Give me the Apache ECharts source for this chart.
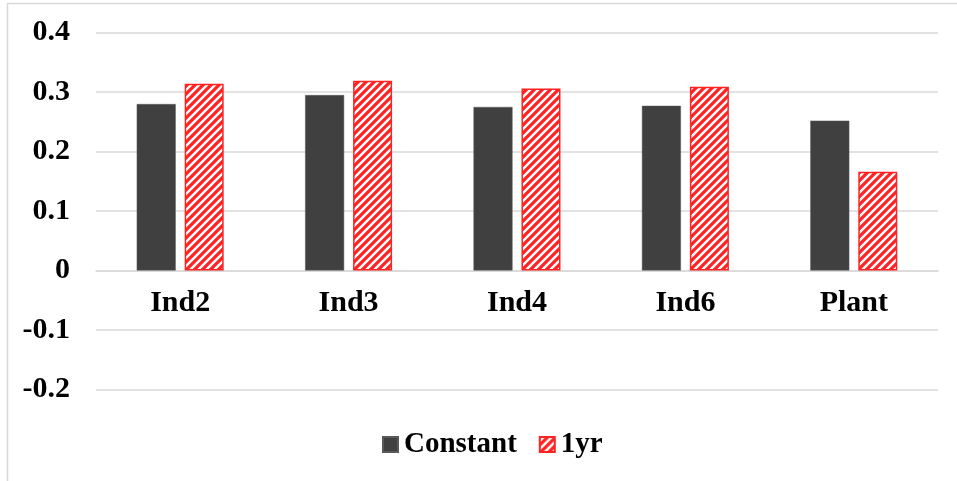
<!DOCTYPE html>
<html>
<head>
<meta charset="utf-8">
<script src="https://cdn.jsdelivr.net/npm/echarts@6/dist/echarts.min.js"></script>
<style>
html,body{margin:0;padding:0;background:#fff;}
#chart{width:957px;height:481px;}
</style>
</head>
<body>
<div id="chart"></div>
<script>
var categories = ['Ind2', 'Ind3', 'Ind4', 'Ind6', 'Plant'];
var constantValues = [0.280, 0.295, 0.275, 0.277, 0.252];
var oneYrValues = [0.314, 0.319, 0.306, 0.309, 0.166];
var seriesNames = ['Constant', '1yr'];

function makeHatch() {
  var c = document.createElement('canvas');
  c.width = 8; c.height = 8;
  var ctx = c.getContext('2d');
  ctx.fillStyle = '#ffffff';
  ctx.fillRect(0, 0, 8, 8);
  ctx.strokeStyle = '#ff2222';
  ctx.lineWidth = 3.2;
  ctx.beginPath();
  ctx.moveTo(-2, 10); ctx.lineTo(10, -2);
  ctx.moveTo(-2, 2); ctx.lineTo(2, -2);
  ctx.moveTo(6, 10); ctx.lineTo(10, 6);
  ctx.stroke();
  return c;
}

var font = 'Liberation Serif';
var chart = echarts.init(document.getElementById('chart'), null, {renderer: 'canvas'});
chart.setOption({
  animation: false,
  backgroundColor: '#ffffff',
  graphic: [{
    type: 'rect',
    shape: {x: 7.5, y: 3.5, width: 1000, height: 600},
    style: {fill: 'none', stroke: '#d9d9d9', lineWidth: 1.5},
    silent: true
  }],
  grid: {left: 96, right: 19, top: 32.7, bottom: 91.7},
  legend: {
    data: seriesNames,
    left: 377,
    top: 425,
    itemWidth: 15,
    itemHeight: 15,
    itemGap: 22,
    icon: 'rect',
    textStyle: {fontFamily: font, fontWeight: 'bold', fontSize: 29, color: '#000', padding: [0, 0, 0, 1]}
  },
  xAxis: {
    type: 'category',
    data: categories,
    offset: -118.6,
    axisLine: {show: true, onZero: false, lineStyle: {color: '#d9d9d9', width: 1.5}},
    axisTick: {show: false},
    axisLabel: {fontFamily: font, fontWeight: 'bold', fontSize: 30, color: '#000', margin: 18}
  },
  yAxis: {
    type: 'value',
    min: -0.2,
    max: 0.4,
    interval: 0.1,
    axisLine: {show: false},
    axisTick: {show: false},
    splitLine: {lineStyle: {color: '#d9d9d9', width: 1.5}},
    axisLabel: {
      fontFamily: font, fontWeight: 'bold', fontSize: 30, color: '#000', margin: 26,
      formatter: function (v) { return String(Math.round(v * 10) / 10); }
    }
  },
  series: [{
    name: seriesNames[0],
    type: 'bar',
    data: constantValues,
    barWidth: 39,
    barGap: '23%',
    itemStyle: {color: '#404040', borderColor: '#595959', borderWidth: 0.5}
  }, {
    name: seriesNames[1],
    type: 'bar',
    data: oneYrValues,
    barWidth: 39,
    itemStyle: {color: {image: makeHatch(), repeat: 'repeat'}, borderColor: '#ff2222', borderWidth: 1.5}
  }]
});
</script>
</body>
</html>
